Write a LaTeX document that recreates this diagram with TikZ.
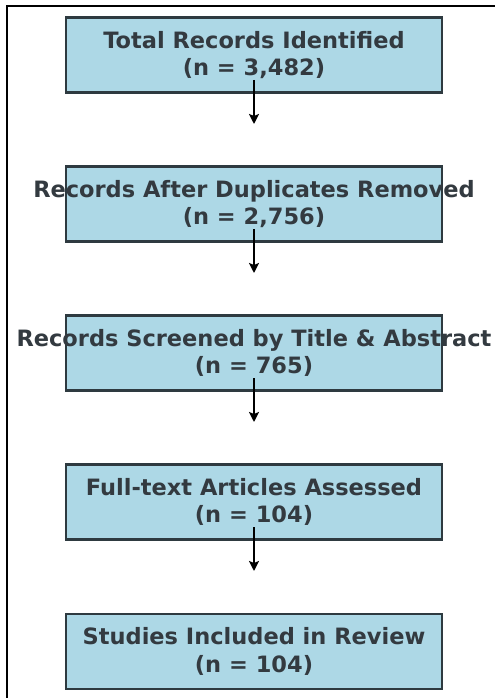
\documentclass[tikz,border=0pt]{standalone}
\usepackage{fontspec}
\setmainfont{DejaVu Sans}
\usetikzlibrary{arrows.meta,calc}
\definecolor{boxfill}{HTML}{ADD8E6}
\definecolor{boxline}{HTML}{2E3A40}
\definecolor{labeltext}{HTML}{333A40}
\tikzset{
  stagebox/.style={draw=boxline, line width=2.2pt, fill=boxfill,
    minimum width=376pt, minimum height=75pt, inner sep=0pt},
  stagelabel/.style={text=labeltext, align=center,
    font=\fontsize{22.5}{27.5}\selectfont\bfseries},
  flowarrow/.style={draw=black, line width=2pt,
    -{Stealth[length=10pt,width=10pt,inset=2pt]}},
  frameline/.style={draw=black, line width=1.2pt}
}
\begin{document}
\begin{tikzpicture}[x=1pt,y=-1pt]
  \useasboundingbox (0,0) rectangle (495,698);
  % outer frame (top and left edges)
  \draw[frameline] (7,698) -- (7,6) -- (495,6);
  % stage boxes
  \node[stagebox] (b1) at (254,55)    {};
  \node[stagebox] (b2) at (254,204)   {};
  \node[stagebox] (b3) at (254,353)   {};
  \node[stagebox] (b4) at (254,502)   {};
  \node[stagebox] (b5) at (254,651.5) {};
  % stage labels
  \node[stagelabel] (t1) at (b1.center) {Total Records Identified\\(n = 3,482)};
  \node[stagelabel] (t2) at (b2.center) {Records After Duplicates Removed\\(n = 2,756)};
  \node[stagelabel] (t3) at (b3.center) {Records Screened by Title \& Abstract\\(n = 765)};
  \node[stagelabel] (t4) at (b4.center) {Full-text Articles Assessed\\(n = 104)};
  \node[stagelabel] (t5) at (b5.center) {Studies Included in Review\\(n = 104)};
  % arrows between stages
  \foreach \i in {1,2,3,4} {
    \coordinate (s\i) at ($(b\i.center)+(0,25)$);
    \coordinate (e\i) at ($(b\i.center)+(0,69)$);
    \draw[flowarrow] (s\i) -- (e\i);
  }
\end{tikzpicture}
\end{document}
